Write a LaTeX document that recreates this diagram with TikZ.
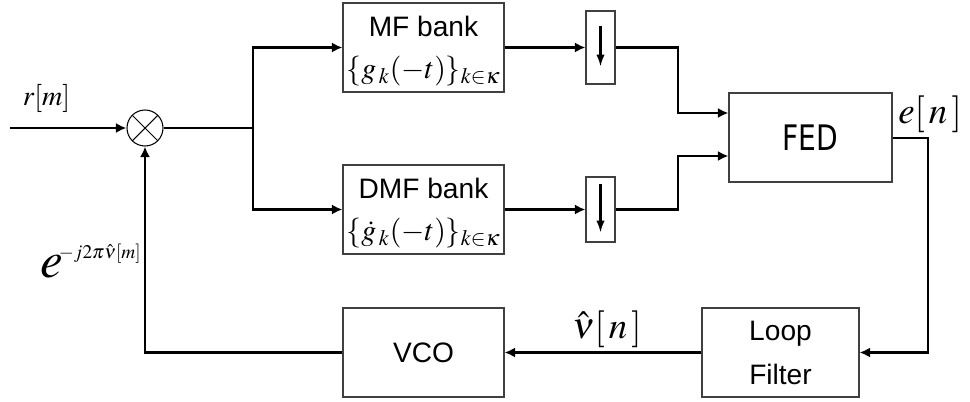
\documentclass[tikz,border=0pt]{standalone}
\usepackage{mathptmx}
\usepackage[no-math]{fontspec}
\setmainfont{Liberation Sans}
\newfontfamily\fedfont[FakeStretch=0.8]{DejaVu Sans}
\usetikzlibrary{arrows.meta}

\tikzset{
	blockbox/.style={draw=black!75, line width=0.6pt, minimum width=3.22cm, minimum height=1.78cm, align=center, inner sep=0pt, font=\fontsize{16}{19}\selectfont},
	downbox/.style={draw=black!75, line width=0.6pt, minimum width=0.58cm, inner sep=0pt},
	mixer/.style={circle, draw, line width=0.6pt, minimum size=0.72cm, inner sep=0pt,
		path picture={\draw[line width=0.6pt] (path picture bounding box.north west) -- (path picture bounding box.south east)
			(path picture bounding box.north east) -- (path picture bounding box.south west);}},
	wire/.style={line width=1.2pt},
	sig/.style={line width=1.2pt, -{Latex[length=2.1mm,width=2mm]}},
	lbl/.style={inner sep=0pt},
}

\begin{document}
\begin{tikzpicture}
	\useasboundingbox (0,0) rectangle (19.4,-8.02);

	% blocks
	\node[mixer] (mix) at (2.9,-2.56) {};
	\node[blockbox] (mf) at (8.47,-0.95) {\rule{0pt}{16pt}MF bank\\[5pt]\fontsize{17}{20}\selectfont$\{g_{\,k}(-t)\}_{k\in\kappa}$};
	\node[blockbox] (dmf) at (8.47,-4.19) {\rule{0pt}{16pt}DMF bank\\[5pt]\fontsize{17}{20}\selectfont$\{\dot{g}_{\,k}(-t)\}_{k\in\kappa}$};
	\node[downbox, minimum height=1.46cm] (d1) at (12.01,-0.95) {};
	\node[downbox, minimum height=1.3cm] (d2) at (12.01,-4.19) {};
	\node[blockbox, minimum width=3.26cm, font=\fedfont\fontsize{20}{24}\selectfont] (fed) at (16.21,-2.75) {FED};
	\node[blockbox, minimum width=3.14cm] (lf) at (15.61,-7.05) {Loop\\[6pt]Filter};
	\node[blockbox] (vco) at (8.47,-7.05) {VCO};

	% joints
	\coordinate (in) at (0.2,-2.56);
	\coordinate (split) at (5.06,-2.56);
	\coordinate (j1) at (13.56,-2.26);
	\coordinate (j2) at (13.56,-3.12);
	\coordinate (c1) at (18.56,-2.76);

	% signal lines
	\draw[sig] (in) -- (mix);
	\draw[wire] (mix) -- (split);
	\draw[sig] (split) |- (mf.west);
	\draw[sig] (split) |- (dmf.west);
	\draw[sig] (mf.east) -- (d1.west);
	\draw[sig] (dmf.east) -- (d2.west);
	\draw[sig] (d1.east) -| (j1) -- (j1 -| fed.west);
	\draw[sig] (d2.east) -| (j2) -- (j2 -| fed.west);
	\draw[sig] (fed.east |- c1) -- (c1) |- (lf.east);
	\draw[sig] (lf.west) -- (vco.east);
	\draw[sig] (vco.west) -| (mix.south);

	% down-sampling arrows
	\draw[line width=1.2pt, -{Latex[length=2.4mm,width=1.7mm]}] ([yshift=-0.32cm]d1.north) -- ([yshift=0.36cm]d1.south);
	\draw[line width=1.2pt, -{Latex[length=2.4mm,width=1.7mm]}] ([yshift=-0.16cm]d2.north) -- ([yshift=0.2cm]d2.south);

	% labels
	\node[lbl, anchor=south] (rlab) at (0.93,-2.26) {\fontsize{16}{19}\selectfont$r[m]$};
	\node[lbl, anchor=base east] (elab) at (2.84,-5.54) {\fontsize{29}{32}\selectfont$e^{\mkern-2mu\mbox{\fontsize{11}{13}\selectfont$-j2\pi\hat{\nu}[m]$}}$};
	\node[lbl, anchor=south] (enlab) at (18.6,-2.66) {\fontsize{21}{24}\selectfont$e[\,n\,]$};
	\node[lbl, anchor=south] (nulab) at (12.14,-6.96) {\fontsize{21}{24}\selectfont$\hat{\nu}[\,n\,]$};
\end{tikzpicture}
\end{document}
